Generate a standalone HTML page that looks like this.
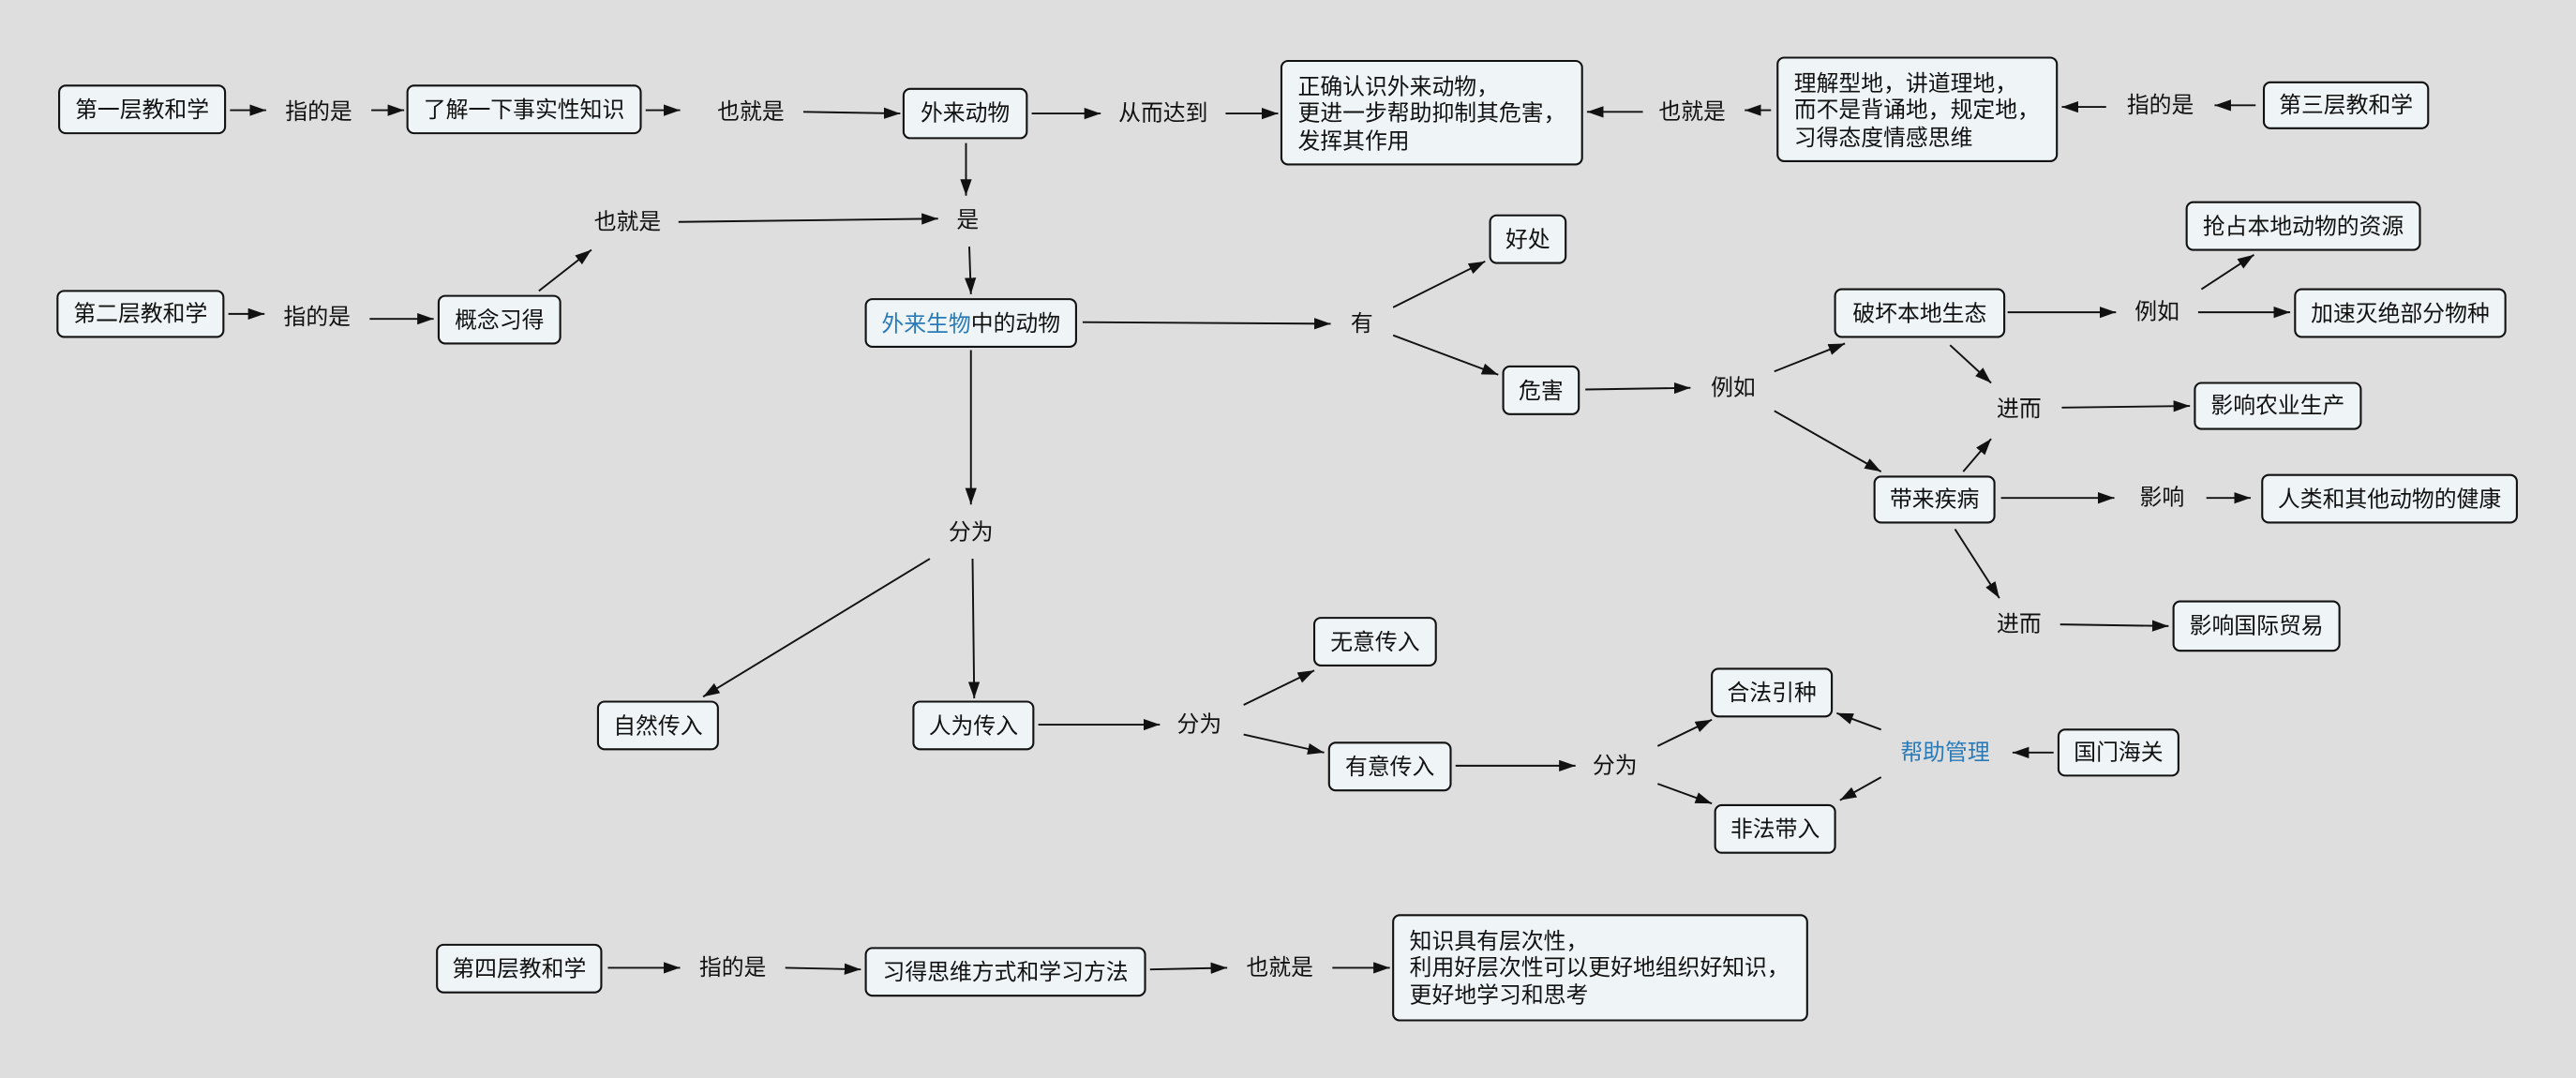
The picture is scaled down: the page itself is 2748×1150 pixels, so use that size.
<!DOCTYPE html>
<html><head><meta charset="utf-8"><style>
html,body{margin:0;padding:0;background:#dedede;}
svg{display:block;}
text{font-family:"Liberation Sans","Noto Sans CJK SC",sans-serif;font-size:13.6px;fill:#111;}
.b{fill:#eff5f7;stroke:#111;stroke-width:1.2;}
.l{stroke:#111;stroke-width:1.1;fill:none;marker-end:url(#a);}
.c{text-anchor:middle;dominant-baseline:central;}
.blue{fill:#2a7ab8;}
</style></head><body>
<svg width="2748" height="1150" viewBox="0 0 1568 656" xmlns="http://www.w3.org/2000/svg">
<defs><marker id="a" markerUnits="userSpaceOnUse" markerWidth="11" markerHeight="8" refX="10" refY="3.5" orient="auto"><path d="M0,0 L10,3.5 L0,7 z" fill="#111"/></marker></defs>
<rect width="1568" height="656" fill="#dedede"/>
<!-- boxes -->
<rect class="b" x="36" y="52" width="101" height="29" rx="4"/><text class="c" x="86.5" y="67">第一层教和学</text>
<rect class="b" x="248" y="52" width="142" height="29" rx="4"/><text class="c" x="319" y="67">了解一下事实性知识</text>
<rect class="b" x="550" y="54" width="75" height="30" rx="4"/><text class="c" x="587.5" y="69">外来动物</text>
<rect class="b" x="780" y="37" width="183" height="63" rx="4"/>
<text x="790" y="53" dominant-baseline="central">正确认识外来动物，</text>
<text x="790" y="69" dominant-baseline="central">更进一步帮助抑制其危害，</text>
<text x="790" y="86" dominant-baseline="central">发挥其作用</text>
<rect class="b" x="1082" y="35" width="170" height="63" rx="4"/>
<text x="1092" y="51" dominant-baseline="central">理解型地，讲道理地，</text>
<text x="1092" y="67" dominant-baseline="central">而不是背诵地，规定地，</text>
<text x="1092" y="84" dominant-baseline="central">习得态度情感思维</text>
<rect class="b" x="1378" y="50" width="100" height="28" rx="4"/><text class="c" x="1428" y="64">第三层教和学</text>
<rect class="b" x="35" y="177" width="101" height="28" rx="4"/><text class="c" x="85.5" y="191">第二层教和学</text>
<rect class="b" x="267" y="180" width="74" height="29" rx="4"/><text class="c" x="304" y="195">概念习得</text>
<rect class="b" x="527" y="182" width="128" height="29" rx="4"/><text class="c" x="591" y="197"><tspan class="blue">外来生物</tspan>中的动物</text>
<rect class="b" x="907" y="131" width="46" height="29" rx="4"/><text class="c" x="930" y="146">好处</text>
<rect class="b" x="915" y="223" width="46" height="29" rx="4"/><text class="c" x="938" y="238">危害</text>
<rect class="b" x="1117" y="176" width="103" height="29" rx="4"/><text class="c" x="1168.5" y="191">破坏本地生态</text>
<rect class="b" x="1397" y="176" width="128" height="29" rx="4"/><text class="c" x="1461" y="191">加速灭绝部分物种</text>
<rect class="b" x="1331" y="123" width="142" height="29" rx="4"/><text class="c" x="1402" y="138">抢占本地动物的资源</text>
<rect class="b" x="1336" y="233" width="101" height="28" rx="4"/><text class="c" x="1386.5" y="247">影响农业生产</text>
<rect class="b" x="1141" y="290" width="73" height="28" rx="4"/><text class="c" x="1177.5" y="304">带来疾病</text>
<rect class="b" x="1377" y="289" width="155" height="29" rx="4"/><text class="c" x="1454.5" y="304">人类和其他动物的健康</text>
<rect class="b" x="1323" y="366" width="101" height="30" rx="4"/><text class="c" x="1373.5" y="381">影响国际贸易</text>
<rect class="b" x="364" y="427" width="73" height="29" rx="4"/><text class="c" x="400.5" y="442">自然传入</text>
<rect class="b" x="556" y="427" width="73" height="29" rx="4"/><text class="c" x="592.5" y="442">人为传入</text>
<rect class="b" x="800" y="376" width="74" height="29" rx="4"/><text class="c" x="837" y="391">无意传入</text>
<rect class="b" x="809" y="452" width="74" height="29" rx="4"/><text class="c" x="846" y="467">有意传入</text>
<rect class="b" x="1042" y="407" width="73" height="29" rx="4"/><text class="c" x="1078.5" y="422">合法引种</text>
<rect class="b" x="1044" y="490" width="73" height="29" rx="4"/><text class="c" x="1080.5" y="505">非法带入</text>
<rect class="b" x="1253" y="444" width="73" height="28" rx="4"/><text class="c" x="1289.5" y="458">国门海关</text>
<rect class="b" x="266" y="575" width="100" height="29" rx="4"/><text class="c" x="316" y="590">第四层教和学</text>
<rect class="b" x="527" y="577" width="170" height="29" rx="4"/><text class="c" x="612" y="592">习得思维方式和学习方法</text>
<rect class="b" x="848" y="557" width="252" height="64" rx="4"/>
<text x="858" y="573" dominant-baseline="central">知识具有层次性，</text>
<text x="858" y="589" dominant-baseline="central">利用好层次性可以更好地组织好知识，</text>
<text x="858" y="606" dominant-baseline="central">更好地学习和思考</text>
<!-- labels -->
<text class="c" x="194" y="68">指的是</text>
<text class="c" x="457" y="68">也就是</text>
<text class="c" x="708" y="69">从而达到</text>
<text class="c" x="1030" y="68">也就是</text>
<text class="c" x="1315" y="64">指的是</text>
<text class="c" x="589" y="134">是</text>
<text class="c" x="382" y="135">也就是</text>
<text class="c" x="193" y="193">指的是</text>
<text class="c" x="829" y="197">有</text>
<text class="c" x="1055" y="236">例如</text>
<text class="c" x="1313" y="190">例如</text>
<text class="c" x="1229" y="249">进而</text>
<text class="c" x="1316" y="303">影响</text>
<text class="c" x="1229" y="380">进而</text>
<text class="c" x="591" y="324">分为</text>
<text class="c" x="730" y="441">分为</text>
<text class="c" x="983" y="466">分为</text>
<text class="c blue" x="1184" y="458">帮助管理</text>
<text class="c" x="446" y="589">指的是</text>
<text class="c" x="779" y="589">也就是</text>
<!-- connectors -->
<line class="l" x1="140" y1="67" x2="162" y2="67"/>
<line class="l" x1="226" y1="67" x2="246" y2="67"/>
<line class="l" x1="393" y1="67" x2="414" y2="67"/>
<line class="l" x1="489" y1="68" x2="548" y2="69"/>
<line class="l" x1="628" y1="69" x2="670" y2="69"/>
<line class="l" x1="746" y1="69" x2="778" y2="69"/>
<line class="l" x1="1000" y1="68" x2="966" y2="68"/>
<line class="l" x1="1078" y1="67" x2="1062" y2="67"/>
<line class="l" x1="1282" y1="65" x2="1255" y2="65"/>
<line class="l" x1="1373" y1="64" x2="1348" y2="64"/>
<line class="l" x1="588" y1="87" x2="588" y2="119"/>
<line class="l" x1="413" y1="135" x2="571" y2="133"/>
<line class="l" x1="590" y1="150" x2="591" y2="179"/>
<line class="l" x1="139" y1="191" x2="161" y2="191"/>
<line class="l" x1="225" y1="194" x2="264" y2="194"/>
<line class="l" x1="328" y1="177" x2="360" y2="152"/>
<line class="l" x1="659" y1="196" x2="810" y2="197"/>
<line class="l" x1="848" y1="187" x2="904" y2="159"/>
<line class="l" x1="848" y1="204" x2="912" y2="228"/>
<line class="l" x1="965" y1="237" x2="1029" y2="236"/>
<line class="l" x1="1080" y1="226" x2="1123" y2="209"/>
<line class="l" x1="1080" y1="250" x2="1145" y2="287"/>
<line class="l" x1="1222" y1="190" x2="1288" y2="190"/>
<line class="l" x1="1338" y1="190" x2="1394" y2="190"/>
<line class="l" x1="1340" y1="176" x2="1372" y2="155"/>
<line class="l" x1="1187" y1="210" x2="1212" y2="233"/>
<line class="l" x1="1255" y1="248" x2="1333" y2="247"/>
<line class="l" x1="1195" y1="287" x2="1212" y2="267"/>
<line class="l" x1="1218" y1="303" x2="1287" y2="303"/>
<line class="l" x1="1343" y1="303" x2="1370" y2="303"/>
<line class="l" x1="1190" y1="322" x2="1217" y2="364"/>
<line class="l" x1="1254" y1="380" x2="1320" y2="381"/>
<line class="l" x1="591" y1="213" x2="591" y2="307"/>
<line class="l" x1="566" y1="340" x2="428" y2="424"/>
<line class="l" x1="592" y1="340" x2="593" y2="425"/>
<line class="l" x1="632" y1="441" x2="706" y2="441"/>
<line class="l" x1="757" y1="429" x2="800" y2="408"/>
<line class="l" x1="757" y1="447" x2="806" y2="458"/>
<line class="l" x1="886" y1="466" x2="959" y2="466"/>
<line class="l" x1="1009" y1="454" x2="1042" y2="438"/>
<line class="l" x1="1009" y1="477" x2="1042" y2="489"/>
<line class="l" x1="1145" y1="444" x2="1118" y2="434"/>
<line class="l" x1="1145" y1="473" x2="1120" y2="487"/>
<line class="l" x1="1250" y1="458" x2="1225" y2="458"/>
<line class="l" x1="370" y1="589" x2="414" y2="589"/>
<line class="l" x1="478" y1="589" x2="524" y2="590"/>
<line class="l" x1="700" y1="590" x2="747" y2="589"/>
<line class="l" x1="811" y1="589" x2="846" y2="589"/>
</svg>
</body></html>
